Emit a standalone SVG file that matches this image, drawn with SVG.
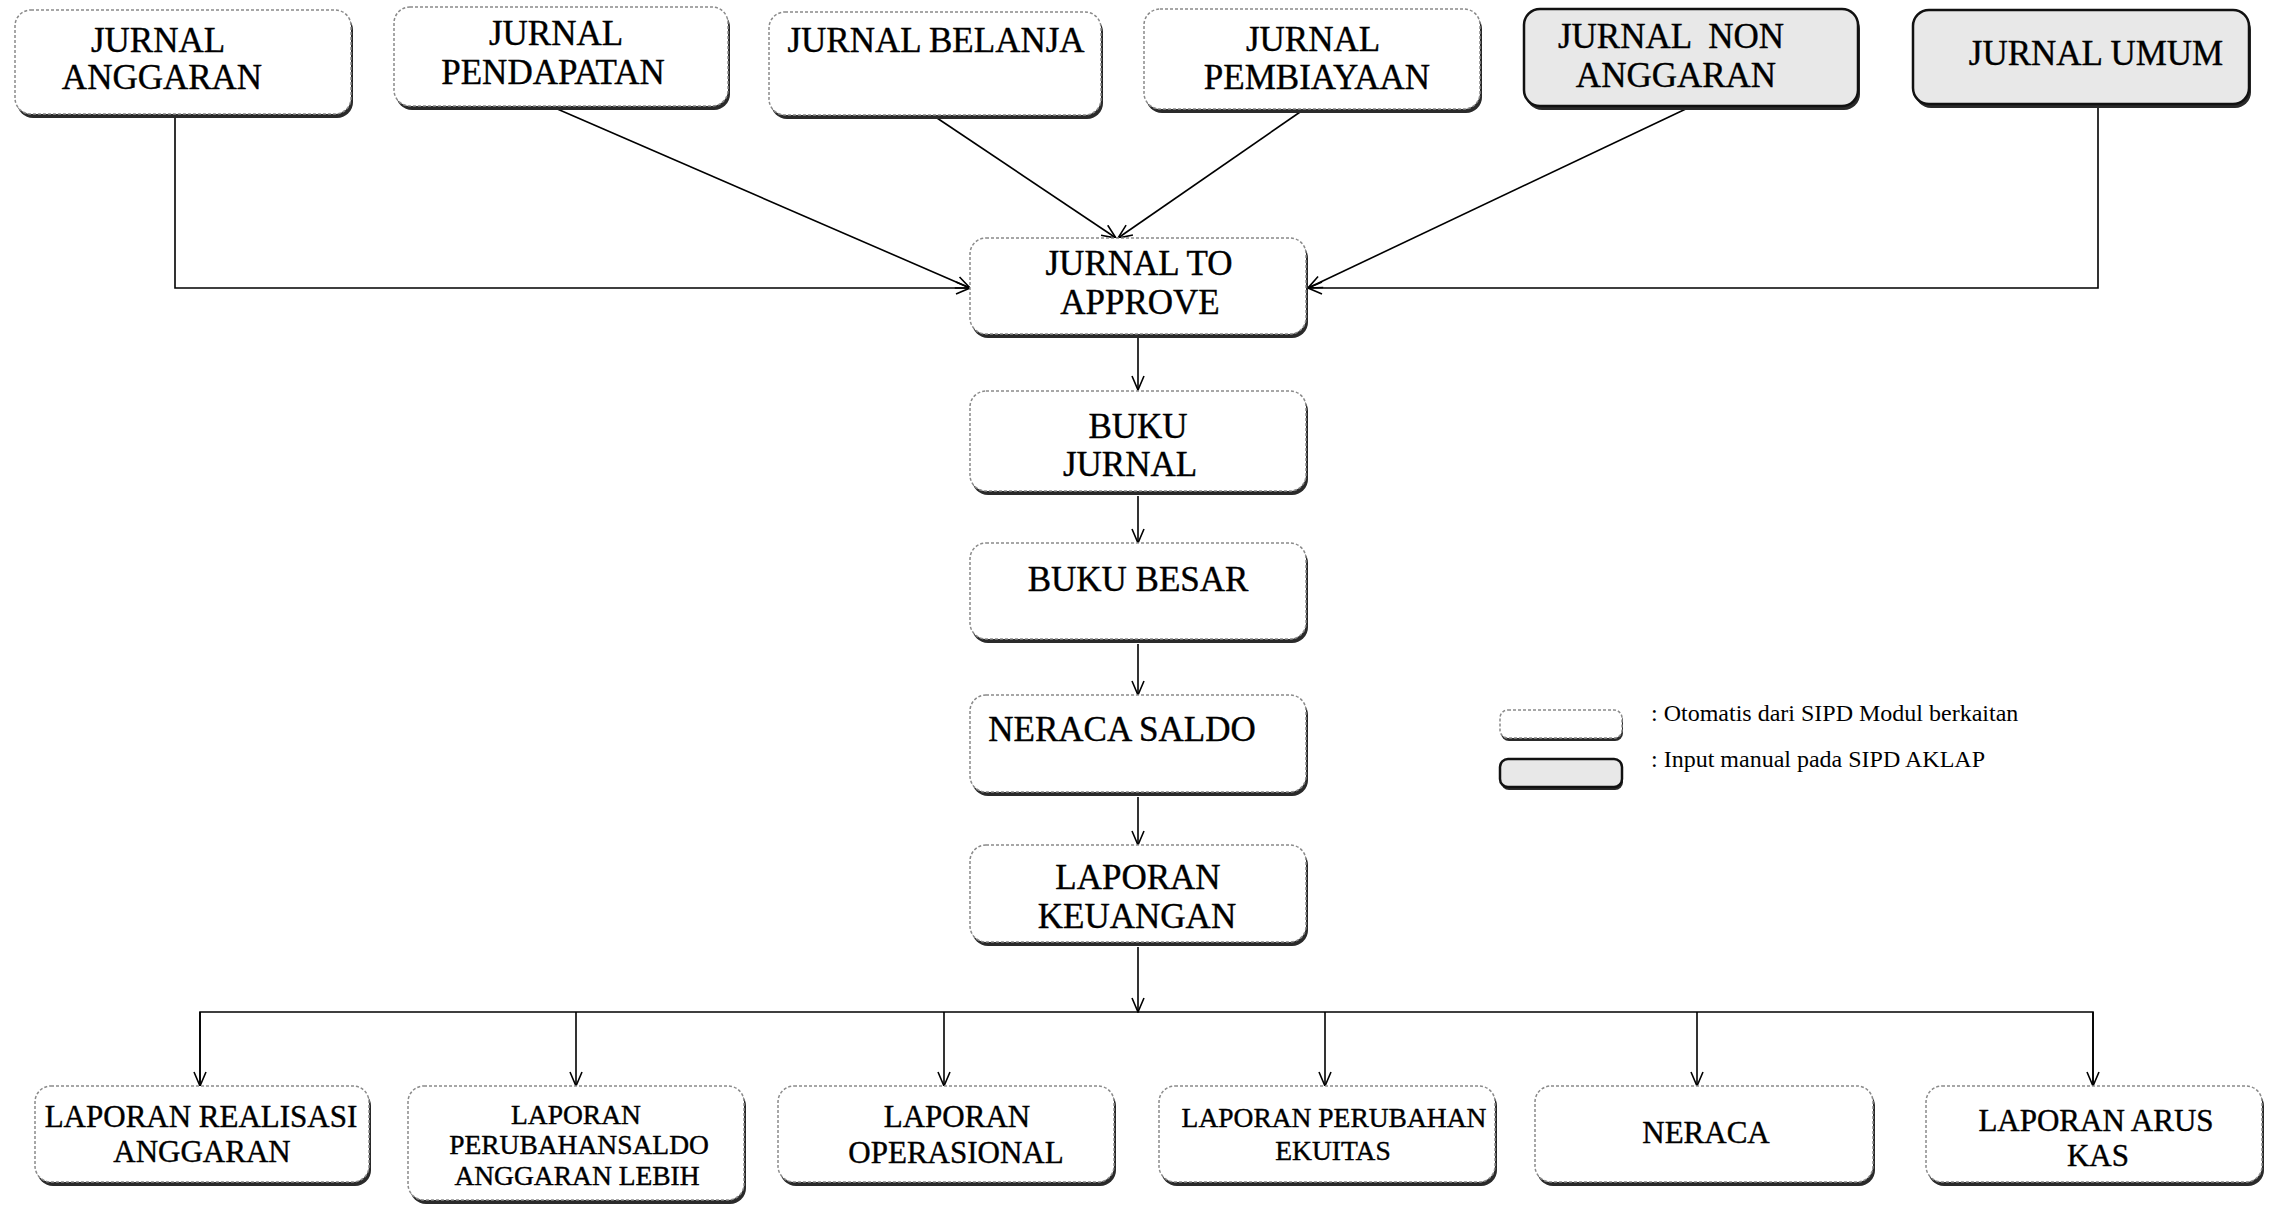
<svg xmlns="http://www.w3.org/2000/svg" width="2271" height="1207" viewBox="0 0 2271 1207">
<style>
  .bg{fill:#ffffff}
  .sh{fill:#2a2a2a}
  .auto{fill:#ffffff;stroke:#8a8a8a;stroke-width:1.5;stroke-dasharray:3 2}
  .manual{fill:#e8e8e8;stroke:#111111;stroke-width:2.5}
  .t{font-family:"Liberation Serif","Times New Roman",serif;fill:#000;stroke:#000;stroke-width:0.4;text-anchor:middle}
  .t34{font-size:35px}
  .t30{font-size:31px}
  .t27{font-size:27.5px}
  .leg{font-family:"Liberation Serif","Times New Roman",serif;font-size:24px;fill:#000}
  .c{fill:none;stroke:#000;stroke-width:1.6}
</style>
<defs>
  <marker id="arr" viewBox="0 0 16 14" refX="15" refY="7" markerWidth="16" markerHeight="14" markerUnits="userSpaceOnUse" orient="auto">
    <path d="M1,1 L15,7 L1,13" fill="none" stroke="#000" stroke-width="1.6"/>
  </marker>
</defs>
<rect class="bg" x="0" y="0" width="2271" height="1207"/>

<g id="connectors">
  <polyline class="c" points="175,115 175,288 970,288" marker-end="url(#arr)"/>
  <line class="c" x1="555" y1="108" x2="970" y2="288" marker-end="url(#arr)"/>
  <line class="c" x1="934" y1="116" x2="1116" y2="238" marker-end="url(#arr)"/>
  <line class="c" x1="1303" y1="110" x2="1118" y2="238" marker-end="url(#arr)"/>
  <line class="c" x1="1690" y1="107" x2="1308" y2="288" marker-end="url(#arr)"/>
  <polyline class="c" points="2098,105 2098,288 1308,288" marker-end="url(#arr)"/>
  <line class="c" x1="1138" y1="336" x2="1138" y2="390" marker-end="url(#arr)"/>
  <line class="c" x1="1138" y1="496" x2="1138" y2="543" marker-end="url(#arr)"/>
  <line class="c" x1="1138" y1="644" x2="1138" y2="695" marker-end="url(#arr)"/>
  <line class="c" x1="1138" y1="797" x2="1138" y2="845" marker-end="url(#arr)"/>
  <line class="c" x1="1138" y1="947" x2="1138" y2="1012" marker-end="url(#arr)"/>
  <polyline class="c" points="200,1086 200,1012 2093,1012 2093,1086"/>
  <line class="c" x1="200" y1="1012" x2="200" y2="1086" marker-end="url(#arr)"/>
  <line class="c" x1="576" y1="1012" x2="576" y2="1086" marker-end="url(#arr)"/>
  <line class="c" x1="944" y1="1012" x2="944" y2="1086" marker-end="url(#arr)"/>
  <line class="c" x1="1325" y1="1012" x2="1325" y2="1086" marker-end="url(#arr)"/>
  <line class="c" x1="1697" y1="1012" x2="1697" y2="1086" marker-end="url(#arr)"/>
  <line class="c" x1="2093" y1="1012" x2="2093" y2="1086" marker-end="url(#arr)"/>
</g>

<g id="jurnal-anggaran">
  <rect class="sh" x="17" y="14" width="336" height="104" rx="16"/>
  <rect class="auto" x="15" y="10" width="336" height="104" rx="16"/>
  <text class="t t34" x="158" y="52">JURNAL</text>
  <text class="t t34" x="162" y="89">ANGGARAN</text>
</g>
<g id="jurnal-pendapatan">
  <rect class="sh" x="396" y="11" width="334" height="99" rx="16"/>
  <rect class="auto" x="394" y="7" width="334" height="99" rx="16"/>
  <text class="t t34" x="556" y="45">JURNAL</text>
  <text class="t t34" x="553" y="84">PENDAPATAN</text>
</g>
<g id="jurnal-belanja">
  <rect class="sh" x="771" y="16" width="332" height="103" rx="16"/>
  <rect class="auto" x="769" y="12" width="332" height="103" rx="16"/>
  <text class="t t34" x="936" y="52">JURNAL BELANJA</text>
</g>
<g id="jurnal-pembiayaan">
  <rect class="sh" x="1146" y="13" width="336" height="100" rx="16"/>
  <rect class="auto" x="1144" y="9" width="336" height="100" rx="16"/>
  <text class="t t34" x="1313" y="51">JURNAL</text>
  <text class="t t34" x="1317" y="89">PEMBIAYAAN</text>
</g>
<g id="jurnal-non-anggaran">
  <rect class="sh" x="1526" y="13" width="334" height="97" rx="16"/>
  <rect class="manual" x="1524" y="9" width="334" height="97" rx="16"/>
  <text class="t t34" x="1671" y="48" xml:space="preserve">JURNAL  NON</text>
  <text class="t t34" x="1676" y="87">ANGGARAN</text>
</g>
<g id="jurnal-umum">
  <rect class="sh" x="1915" y="14" width="336" height="94" rx="16"/>
  <rect class="manual" x="1913" y="10" width="336" height="94" rx="16"/>
  <text class="t t34" x="2096" y="65">JURNAL UMUM</text>
</g>

<g id="jurnal-to-approve">
  <rect class="sh" x="972" y="242" width="336" height="96" rx="16"/>
  <rect class="auto" x="970" y="238" width="336" height="96" rx="16"/>
  <text class="t t34" x="1139" y="275">JURNAL TO</text>
  <text class="t t34" x="1140" y="314">APPROVE</text>
</g>
<g id="buku-jurnal">
  <rect class="sh" x="972" y="395" width="336" height="100" rx="16"/>
  <rect class="auto" x="970" y="391" width="336" height="100" rx="16"/>
  <text class="t t34" x="1138" y="438">BUKU</text>
  <text class="t t34" x="1130" y="476">JURNAL</text>
</g>
<g id="buku-besar">
  <rect class="sh" x="972" y="547" width="336" height="96" rx="16"/>
  <rect class="auto" x="970" y="543" width="336" height="96" rx="16"/>
  <text class="t t34" x="1138" y="591">BUKU BESAR</text>
</g>
<g id="neraca-saldo">
  <rect class="sh" x="972" y="699" width="336" height="97" rx="16"/>
  <rect class="auto" x="970" y="695" width="336" height="97" rx="16"/>
  <text class="t t34" x="1122" y="741">NERACA SALDO</text>
</g>
<g id="laporan-keuangan">
  <rect class="sh" x="972" y="849" width="336" height="97" rx="16"/>
  <rect class="auto" x="970" y="845" width="336" height="97" rx="16"/>
  <text class="t t34" x="1138" y="889">LAPORAN</text>
  <text class="t t34" x="1137" y="928">KEUANGAN</text>
</g>

<g id="lra">
  <rect class="sh" x="37" y="1090" width="334" height="96" rx="16"/>
  <rect class="auto" x="35" y="1086" width="334" height="96" rx="16"/>
  <text class="t t30" x="201" y="1127">LAPORAN REALISASI</text>
  <text class="t t30" x="202" y="1162">ANGGARAN</text>
</g>
<g id="lpsal">
  <rect class="sh" x="410" y="1090" width="336" height="114" rx="16"/>
  <rect class="auto" x="408" y="1086" width="336" height="114" rx="16"/>
  <text class="t t27" x="576" y="1124">LAPORAN</text>
  <text class="t t27" x="579" y="1154">PERUBAHANSALDO</text>
  <text class="t t27" x="577" y="1185">ANGGARAN LEBIH</text>
</g>
<g id="lo">
  <rect class="sh" x="780" y="1090" width="336" height="96" rx="16"/>
  <rect class="auto" x="778" y="1086" width="336" height="96" rx="16"/>
  <text class="t t30" x="957" y="1127">LAPORAN</text>
  <text class="t t30" x="956" y="1163">OPERASIONAL</text>
</g>
<g id="lpe">
  <rect class="sh" x="1161" y="1090" width="336" height="96" rx="16"/>
  <rect class="auto" x="1159" y="1086" width="336" height="96" rx="16"/>
  <text class="t t27" x="1334" y="1127">LAPORAN PERUBAHAN</text>
  <text class="t t27" x="1333" y="1160">EKUITAS</text>
</g>
<g id="neraca">
  <rect class="sh" x="1537" y="1090" width="338" height="96" rx="16"/>
  <rect class="auto" x="1535" y="1086" width="338" height="96" rx="16"/>
  <text class="t t30" x="1706" y="1143">NERACA</text>
</g>
<g id="lak">
  <rect class="sh" x="1928" y="1090" width="336" height="96" rx="16"/>
  <rect class="auto" x="1926" y="1086" width="336" height="96" rx="16"/>
  <text class="t t30" x="2096" y="1131">LAPORAN ARUS</text>
  <text class="t t30" x="2098" y="1166">KAS</text>
</g>

<g id="legend">
  <rect class="sh" x="1501" y="713" width="122" height="28" rx="8"/>
  <rect class="auto" x="1500" y="710" width="122" height="28" rx="8"/>
  <text class="leg" x="1651" y="721">: Otomatis dari SIPD Modul berkaitan</text>
  <rect class="sh" x="1501" y="762" width="122" height="28" rx="8"/>
  <rect class="manual" x="1500" y="759" width="122" height="28" rx="8"/>
  <text class="leg" x="1651" y="767">: Input manual pada SIPD AKLAP</text>
</g>
</svg>
